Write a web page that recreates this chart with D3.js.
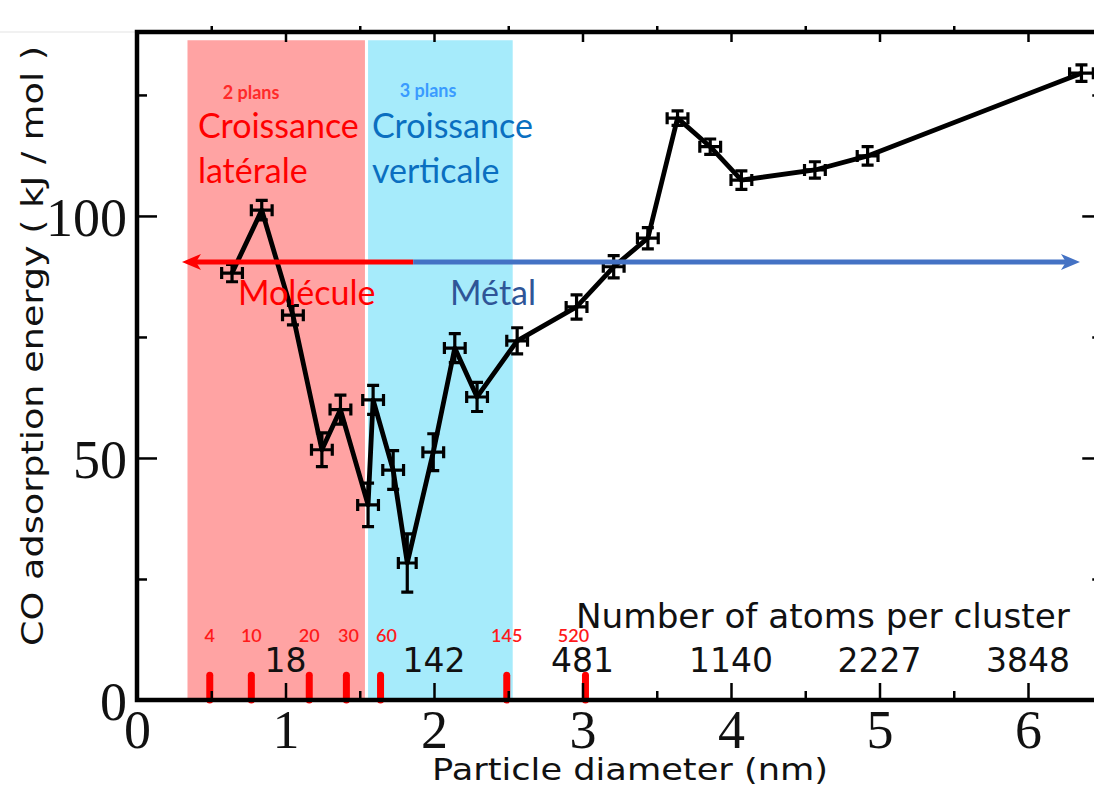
<!DOCTYPE html>
<html>
<head>
<meta charset="utf-8">
<script src="https://cdn.jsdelivr.net/npm/d3@7/dist/d3.min.js"></script>
<style>
  html, body { margin: 0; padding: 0; background: #fff; }
  svg { display: block; }
</style>
</head>
<body>
<svg id="chart" width="1094" height="789"></svg>
<script>
// ---------- data ----------
const diameters = [0.64, 0.84, 1.05, 1.245, 1.37, 1.556, 1.59, 1.725, 1.82, 1.995, 2.14, 2.29, 2.56, 2.96, 3.21, 3.44, 3.64, 3.86, 4.07, 4.565, 4.92, 6.36];
const energies = [88.2, 101.2, 79.5, 51.7, 60.0, 40.3, 62.0, 47.5, 28.3, 51.2, 72.7, 62.6, 74.2, 81.2, 89.5, 95.4, 120.2, 114.3, 107.4, 109.5, 112.4, 129.5];
const energyErrors = [1.8, 2.0, 2.0, 3.5, 3.0, 4.5, 3.0, 4.0, 6.0, 3.8, 3.0, 3.0, 2.7, 2.5, 2.3, 2.2, 1.5, 1.6, 1.9, 1.7, 1.9, 1.7];
const diameterErrors = [0.07, 0.07, 0.07, 0.07, 0.07, 0.07, 0.07, 0.07, 0.06, 0.07, 0.07, 0.07, 0.07, 0.07, 0.07, 0.07, 0.07, 0.07, 0.07, 0.07, 0.07, 0.08];

const xTickValues = [0, 1, 2, 3, 4, 5, 6];
const xMinorTicks = [0.5, 1.5, 2.5, 3.5, 4.5, 5.5];
const yTickValues = [0, 50, 100];
const yMinorTicks = [25, 75, 125];

const atomCountPositions = [1, 2, 3, 4, 5, 6];
const atomCountLabels = ["18", "142", "481", "1140", "2227", "3848"];

const redTickDiameters = [0.49, 0.77, 1.16, 1.41, 1.64, 2.49, 3.02];
const redTickLabels = ["4", "10", "20", "30", "60", "145", "520"];

const regionStarts = [0.34, 1.556];
const regionEnds = [1.535, 2.53];
const regionColors = ["#ffa3a3", "#a6ebfb"];

// ---------- layout ----------
const svg = d3.select("#chart");
const x = d3.scaleLinear().domain([0, 6.5]).range([137, 1102.25]);
const y = d3.scaleLinear().domain([0, 138]).range([700, 32]);

const serif = "'Liberation Serif', 'Times New Roman', serif";
const sans = "'DejaVu Sans', Verdana, sans-serif";
const cal = "Lato, 'Open Sans', sans-serif";

// faint line top-left
svg.append("line").attr("x1", 0).attr("x2", x(0)).attr("y1", y(138)).attr("y2", y(138))
  .attr("stroke", "#ececec").attr("stroke-width", 1.5);

// regions
svg.append("g").selectAll("rect").data(regionStarts).join("rect")
  .attr("x", d => x(d))
  .attr("width", (d, i) => x(regionEnds[i]) - x(d))
  .attr("y", y(136.3))
  .attr("height", y(0) - y(136.3))
  .attr("fill", (d, i) => regionColors[i]);

// red ticks (number of atoms markers)
svg.append("g").selectAll("line").data(redTickDiameters).join("line")
  .attr("x1", d => x(d)).attr("x2", d => x(d))
  .attr("y1", y(0)).attr("y2", y(5.1))
  .attr("stroke", "#ff0000").attr("stroke-width", 7).attr("stroke-linecap", "round");

svg.append("g").selectAll("text").data(redTickLabels).join("text")
  .attr("x", (d, i) => x(redTickDiameters[i]) + (d === "520" ? -12 : d === "60" ? 6 : d === "30" ? 2 : 0))
  .attr("y", y(12.0))
  .attr("text-anchor", "middle")
  .attr("font-family", cal).attr("font-size", 18).attr("font-weight", 600)
  .attr("fill", "#ff1a1a")
  .text(d => d);

// atom count labels
svg.append("g").selectAll("text").data(atomCountLabels).join("text")
  .attr("x", (d, i) => x(atomCountPositions[i]))
  .attr("y", y(5.8))
  .attr("text-anchor", "middle")
  .attr("font-family", sans).attr("font-size", 33)
  .attr("fill", "#111")
  .text(d => d);

svg.append("text")
  .attr("x", x(2.956)).attr("y", y(14.9))
  .attr("font-family", sans).attr("font-size", 33).attr("fill", "#111")
  .attr("textLength", 494).attr("lengthAdjust", "spacingAndGlyphs")
  .text("Number of atoms per cluster");

// ---------- data line & error bars ----------
const pts = diameters.map((d, i) => ({ d, e: energies[i], ee: energyErrors[i], de: diameterErrors[i] }));

svg.append("path")
  .datum(pts)
  .attr("fill", "none").attr("stroke", "#000").attr("stroke-width", 4.8)
  .attr("stroke-linejoin", "round")
  .attr("d", d3.line().x(p => x(p.d)).y(p => y(p.e)));

const eb = svg.append("g").attr("stroke", "#000").attr("stroke-width", 3.2).attr("fill", "none");
const cap = 6;
pts.forEach(p => {
  const cx = x(p.d), cy = y(p.e);
  const yt = y(p.e + p.ee), yb = y(p.e - p.ee);
  const xl = x(p.d - p.de), xr = x(p.d + p.de);
  eb.append("path").attr("d",
    `M${cx},${yt}V${yb}` +
    `M${cx - cap},${yt}H${cx + cap}` +
    `M${cx - cap},${yb}H${cx + cap}` +
    `M${xl},${cy}H${xr}` +
    `M${xl},${cy - cap}V${cy + cap}` +
    `M${xr},${cy - cap}V${cy + cap}`);
});

// ---------- arrows ----------
const arrowY = 90.5;
const arrowSplit = 1.86;
function arrowHead(tipX, dir, color) {
  const tx = x(tipX), ty = y(arrowY);
  const L = 19, H = 8, notch = 5;
  svg.append("path")
    .attr("d", `M${tx},${ty} L${tx - dir * L},${ty - H} L${tx - dir * (L - notch)},${ty} L${tx - dir * L},${ty + H} Z`)
    .attr("fill", color);
}
svg.append("line").attr("x1", x(arrowSplit)).attr("x2", x(0.303) + 14)
  .attr("y1", y(arrowY)).attr("y2", y(arrowY))
  .attr("stroke", "#ff0000").attr("stroke-width", 5);
arrowHead(0.303, -1, "#ff0000");
svg.append("line").attr("x1", x(arrowSplit)).attr("x2", x(6.35) - 14)
  .attr("y1", y(arrowY)).attr("y2", y(arrowY))
  .attr("stroke", "#4472c4").attr("stroke-width", 5);
arrowHead(6.35, 1, "#4472c4");

// ---------- annotations ----------
const annotations = [
  { t: "2 plans", x: 0.768, y: 124.2, c: "#ff2a2a", s: 18, w: 700, a: "middle" },
  { t: "Croissance", x: 0.41, y: 116.1, c: "#ff0000", s: 34, w: 400, a: "start" },
  { t: "latérale", x: 0.41, y: 106.8, c: "#ff0000", s: 34, w: 400, a: "start" },
  { t: "3 plans", x: 1.96, y: 124.6, c: "#3a9bff", s: 18, w: 700, a: "middle" },
  { t: "Croissance", x: 1.582, y: 116.1, c: "#0a6fc0", s: 34, w: 400, a: "start" },
  { t: "verticale", x: 1.582, y: 106.8, c: "#0a6fc0", s: 34, w: 400, a: "start" },
  { t: "Molécule", x: 0.68, y: 81.6, c: "#ff0000", s: 34, w: 400, a: "start" },
  { t: "Métal", x: 2.108, y: 81.6, c: "#2f5597", s: 34, w: 400, a: "start" }
];
svg.append("g").selectAll("text").data(annotations).join("text")
  .attr("x", d => x(d.x)).attr("y", d => y(d.y))
  .attr("text-anchor", d => d.a)
  .attr("font-family", cal).attr("font-size", d => d.s).attr("font-weight", d => d.w)
  .attr("fill", d => d.c)
  .text(d => d.t);

// ---------- axes ----------
function styleAxis(g) {
  g.select(".domain").remove();
  g.selectAll(".tick line").attr("stroke", "#000").attr("stroke-width", 2.5);
  g.selectAll("text").attr("font-family", serif).attr("font-size", 54).attr("fill", "#111");
}
// bottom
svg.append("g").attr("transform", `translate(0,${y(0)})`)
  .call(d3.axisBottom(x).tickValues(xTickValues).tickFormat(d3.format("d")).tickSizeInner(-17).tickSizeOuter(0).tickPadding(10))
  .call(styleAxis);
svg.append("g").attr("transform", `translate(0,${y(0)})`)
  .call(d3.axisBottom(x).tickValues(xMinorTicks).tickFormat("").tickSizeInner(-9).tickSizeOuter(0))
  .call(styleAxis);
// top
svg.append("g").attr("transform", `translate(0,${y(138)})`)
  .call(d3.axisTop(x).tickValues(xTickValues).tickFormat("").tickSizeInner(-10).tickSizeOuter(0))
  .call(styleAxis);
svg.append("g").attr("transform", `translate(0,${y(138)})`)
  .call(d3.axisTop(x).tickValues(xMinorTicks).tickFormat("").tickSizeInner(6).tickSizeOuter(0))
  .call(styleAxis);
// left
svg.append("g").attr("transform", `translate(${x(0)},0)`)
  .call(d3.axisLeft(y).tickValues(yTickValues).tickFormat(d3.format("d")).tickSizeInner(-20).tickSizeOuter(0).tickPadding(10))
  .call(styleAxis)
  .call(g => g.selectAll("text").attr("dy", "0.36em"));
svg.append("g").attr("transform", `translate(${x(0)},0)`)
  .call(d3.axisLeft(y).tickValues(yMinorTicks).tickFormat("").tickSizeInner(-10).tickSizeOuter(0))
  .call(styleAxis);
// right
svg.append("g").attr("transform", `translate(${x(6.5)},0)`)
  .call(d3.axisRight(y).tickValues(yTickValues).tickFormat("").tickSizeInner(-20).tickSizeOuter(0))
  .call(styleAxis);
svg.append("g").attr("transform", `translate(${x(6.5)},0)`)
  .call(d3.axisRight(y).tickValues(yMinorTicks).tickFormat("").tickSizeInner(-10).tickSizeOuter(0))
  .call(styleAxis);

// frame
svg.append("rect")
  .attr("x", x(0)).attr("y", y(138))
  .attr("width", x(6.5) - x(0)).attr("height", y(0) - y(138))
  .attr("fill", "none").attr("stroke", "#000").attr("stroke-width", 4.5);

// axis titles
svg.append("text")
  .attr("x", 630).attr("y", 780)
  .attr("text-anchor", "middle")
  .attr("font-family", sans).attr("font-size", 31).attr("fill", "#111")
  .attr("textLength", 396).attr("lengthAdjust", "spacingAndGlyphs")
  .text("Particle diameter (nm)");
svg.append("text")
  .attr("transform", `translate(43,346) rotate(-90)`)
  .attr("text-anchor", "middle")
  .attr("font-family", sans).attr("font-size", 31).attr("fill", "#111")
  .attr("textLength", 600).attr("lengthAdjust", "spacingAndGlyphs")
  .text("CO adsorption energy ( kJ / mol )");
</script>
</body>
</html>
